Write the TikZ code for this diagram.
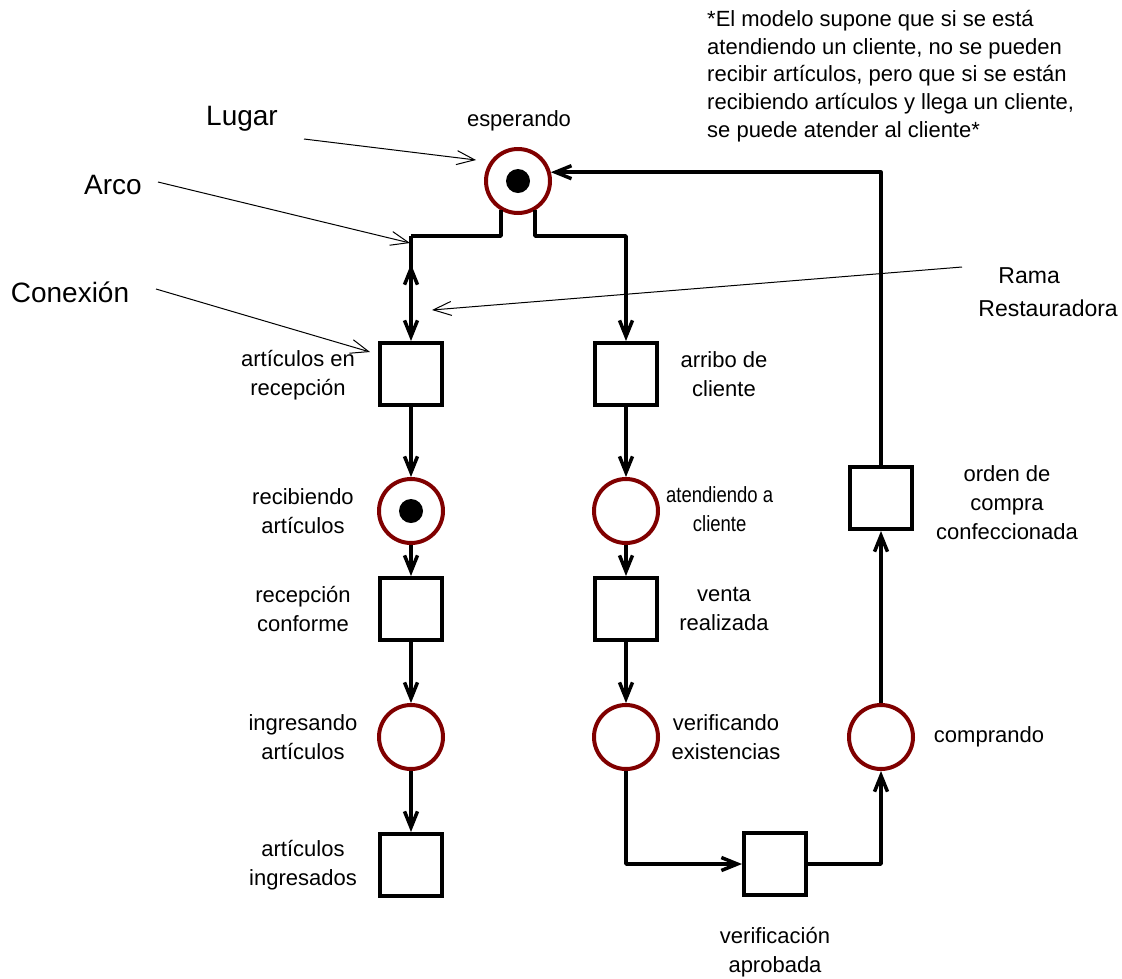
\documentclass[tikz,border=0pt]{standalone}
\usepackage{fontspec}
\setmainfont{Liberation Sans}
\usetikzlibrary{arrows.meta}
\definecolor{placered}{RGB}{128,0,0}
\tikzset{
  place/.style={circle,draw=placered,line width=4pt,minimum size=64pt,inner sep=0pt},
  trans/.style={rectangle,draw=black,line width=4pt,minimum size=62pt,inner sep=0pt},
  token/.style={circle,fill=black,minimum size=24pt,inner sep=0pt},
  arc/.style={line width=3.5pt,-{Straight Barb[length=16pt,width=13pt]}},
  plainarc/.style={line width=3.5pt},
  note/.style={line width=1pt,-{Straight Barb[length=18pt,width=14pt]}},
  lbl/.style={font=\fontsize{22}{29}\selectfont,align=center,inner sep=0pt},
  big/.style={font=\fontsize{28}{33}\selectfont,inner sep=0pt}
}
\begin{document}
\begin{tikzpicture}[x=1pt,y=-1pt]
\useasboundingbox (0,0) rectangle (1122,978);

% places
\node[place] (esp) at (518,181) {};
\node[token] (espt) at (518,181) {};
\node[place] (rec) at (411,511) {};
\node[token] (rect) at (411,511) {};
\node[place] (ing) at (411,737) {};
\node[place] (ate) at (626,511) {};
\node[place] (ver) at (626,737) {};
\node[place] (com) at (881,737) {};

% transitions
\node[trans] (art) at (411,374) {};
\node[trans] (rcf) at (411,609) {};
\node[trans] (ain) at (411,865) {};
\node[trans] (arr) at (626,374) {};
\node[trans] (ven) at (626,609) {};
\node[trans] (apr) at (775,864) {};
\node[trans] (ord) at (881,498) {};

% junction points below the initial place
\coordinate (jl) at (411,236);
\coordinate (jr) at (626,236);
\coordinate (upt) at (411,264);
\coordinate (upb) at (411,300);

% arcs
\draw[plainarc,line join=round] (esp.-120) |- (jl);
\draw[arc] (jl) -- (art.north);
\draw[arc] (upb) -- (upt);
\draw[arc,line join=round] (esp.-60) |- (jr) -- (arr.north);
\draw[arc] (art) -- (rec);
\draw[arc] (rec) -- (rcf);
\draw[arc] (rcf) -- (ing);
\draw[arc] (ing) -- (ain);
\draw[arc] (arr) -- (ate);
\draw[arc] (ate) -- (ven);
\draw[arc] (ven) -- (ver);
\draw[arc,line join=round] (ver.south) |- (apr.west);
\draw[arc,line join=round] (apr.east) -| (com.south);
\draw[arc] (com) -- (ord);
\draw[arc,line join=round] (ord.north) |- (esp.15);

% labels of places and transitions
\node[lbl] (l1) at (519,121) {esperando};
\node[lbl] (l2) at (298,375) {artículos en\\recepción};
\node[lbl] (l3) at (303,511) {recibiendo\\artículos};
\node[lbl] (l4) at (303,609) {recepción\\conforme};
\node[lbl] (l5) at (303,737) {ingresando\\artículos};
\node[lbl] (l6) at (303,865) {artículos\\ingresados};
\node[lbl] (l7) at (724,374) {arribo de\\cliente};
\node[lbl,anchor=west] (l8) at (666,511)
  {\scalebox{0.84}[1]{\begin{tabular}{@{}c@{}}atendiendo a\\cliente\end{tabular}}};
\node[lbl] (l9) at (724,609) {venta\\realizada};
\node[lbl] (l10) at (726,737) {verificando\\existencias};
\node[lbl] (l11) at (775,952) {verificación\\aprobada};
\node[lbl] (l12) at (1007,503) {orden de\\compra\\confeccionada};
\node[lbl] (l13) at (989,737) {comprando};

% side note
\node[lbl,align=left,anchor=west,font=\fontsize{22}{27.8}\selectfont] (nt) at (707,76)
  {*El modelo supone que si se está\\atendiendo un cliente, no se pueden\\recibir artículos, pero que si se están\\recibiendo artículos y llega un cliente,\\se puede atender al cliente*};

% callouts
\node[big] (lug) at (242,119) {Lugar};
\node[big] (arc) at (113,185) {Arco};
\node[big] (con) at (70,292) {Conexión};
\node[big,align=left,anchor=east,font=\fontsize{23}{33}\selectfont] (ram) at (1118,292) {\hspace*{20pt}Rama\\Restauradora};

\coordinate (lugs) at (304,139);
\coordinate (luge) at (476,160);
\coordinate (arcs) at (158,182);
\coordinate (arce) at (410,243);
\coordinate (cons) at (156,289);
\coordinate (cone) at (370,352);
\coordinate (rams) at (962,267);
\coordinate (rame) at (432,310);
\draw[note] (lugs) -- (luge);
\draw[note] (arcs) -- (arce);
\draw[note] (cons) -- (cone);
\draw[note] (rams) -- (rame);
\end{tikzpicture}
\end{document}
